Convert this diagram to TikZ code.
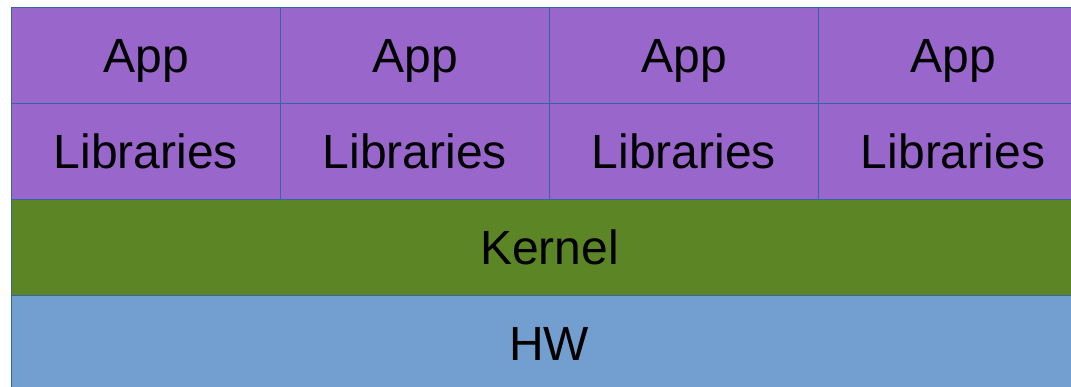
\documentclass[tikz,border=0pt]{standalone}
\usepackage{fontspec}
\setmainfont{Liberation Sans}
\usepackage{tikz}
\usetikzlibrary{positioning}

\definecolor{apppurple}{RGB}{153,102,204}
\definecolor{kernelgreen}{RGB}{92,133,38}
\definecolor{hwblue}{RGB}{114,159,207}
\definecolor{edgeblue}{RGB}{52,101,164}

\begin{document}
\begin{tikzpicture}[
  x=1pt, y=1pt,
  font=\fontsize{48}{50}\selectfont,
  layerbox/.style={
    rectangle, draw=edgeblue, line width=1pt, inner sep=0pt,
    minimum height=96pt, anchor=north west,
    text height=35pt, text depth=0pt
  },
  appcell/.style={layerbox, fill=apppurple, minimum width=269pt},
  kernelbar/.style={layerbox, fill=kernelgreen, minimum width=1076pt},
  hwbar/.style={layerbox, fill=hwblue, minimum width=1076pt},
]
\useasboundingbox (0,0) rectangle (1071,-387);
\clip (0,0) rectangle (1071,-387);

% Apps and libraries, four columns
\foreach \i in {0,...,3} {
  \node[appcell] (app\i) at (11+269*\i,-7) {App};
  \node[appcell] (lib\i) at (11+269*\i,-103) {Libraries};
}

% Kernel
\node[kernelbar] (kernel) at (11,-199) {Kernel};

% Hardware
\node[hwbar, minimum height=110pt] (hw) at (11,-295) {};
\node[text height=35pt, text depth=0pt] at (549,-343) (hwlabel) {HW};

\end{tikzpicture}
\end{document}
